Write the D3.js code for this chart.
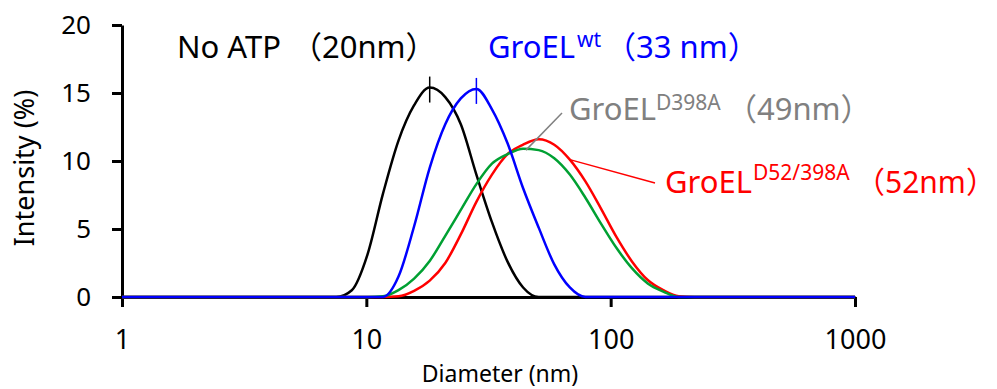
<!DOCTYPE html>
<html>
<head>
<meta charset="utf-8">
<script src="https://cdn.jsdelivr.net/npm/d3@7"></script>
<style>
  body { margin: 0; background: #fff; }
  text { font-family: "Noto Sans", "Noto Sans CJK JP", sans-serif; }
</style>
</head>
<body>
<div class="draw"></div>
<script>
// size bins (nm), Zetasizer style, plus the two ends of the axis
const diameters = [1, 7.531, 8.721, 10.1, 11.7, 13.54, 15.69, 18.17, 21.04, 24.36, 28.21, 32.67, 37.84, 43.82, 50.75, 58.77, 68.06, 78.82, 91.28, 105.7, 122.4, 141.8, 164.2, 190.1, 220.2, 1000]

// intensity (%)
const noAtp   = [0, 0, 0.5, 3.1, 7.6, 11.5, 14.1, 15.4, 14.7, 12.7, 9.0, 5.5, 2.6, 0.7, 0, 0, 0, 0, 0, 0, 0, 0, 0, 0, 0, 0]
const wt      = [0, 0, 0, 0, 0, 1.5, 5.2, 9.5, 12.7, 14.6, 15.3, 13.8, 11.3, 8.0, 5.1, 2.4, 0.7, 0, 0, 0, 0, 0, 0, 0, 0, 0]
const d398a   = [0, 0, 0, 0, 0.05, 0.5, 1.35, 2.65, 4.5, 6.4, 8.3, 9.8, 10.5, 10.9, 10.8, 10.2, 9.0, 7.3, 5.4, 3.6, 2.1, 1.0, 0.4, 0, 0, 0]
const d52398a = [0, 0, 0, 0, 0, 0.05, 0.45, 1.2, 2.5, 4.6, 7.0, 9.0, 10.5, 11.2, 11.6, 11.2, 10.1, 8.5, 6.5, 4.4, 2.6, 1.25, 0.5, 0.05, 0, 0]

const xTicks = [1, 10, 100, 1000]
const yTicks = [0, 5, 10, 15, 20]

const width = 997
const height = 389

let svg = d3.select("div.draw")
    .append("svg")
    .attr("width", width)
    .attr("height", height)

let x = d3.scaleLog().domain([1, 1000]).range([122, 855])
let y = d3.scaleLinear().domain([0, 20]).range([297, 25])

// drawing order: black, red, green, blue on top
const series = [
  {values: noAtp, color: "#000000", peakMark: true},
  {values: d52398a, color: "#ff0000", peakMark: false},
  {values: d398a, color: "#00a032", peakMark: false},
  {values: wt, color: "#0000ff", peakMark: true}
]

// axes
let yAxis = svg.append("g")
    .attr("transform", "translate(122,0)")
    .call(d3.axisLeft(y).tickValues(yTicks).tickSize(10).tickSizeOuter(0).tickPadding(21))
yAxis.select(".domain").attr("stroke-width", 3)
yAxis.selectAll(".tick line").attr("stroke-width", 3)
yAxis.selectAll(".tick text")
    .style("font-size", "26px")
    .attr("fill", "#000")

let xAxis = svg.append("g")
    .attr("transform", "translate(0,297)")
    .call(d3.axisBottom(x).tickValues(xTicks).tickFormat(d3.format("d")).tickSize(10).tickSizeOuter(0).tickPadding(23))
xAxis.select(".domain").attr("stroke-width", 3)
xAxis.selectAll(".tick line").attr("stroke-width", 3)
xAxis.selectAll(".tick text")
    .style("font-size", "27px")
    .attr("fill", "#000")

svg.append("text")
    .attr("transform", "translate(34,168) rotate(-90)")
    .attr("text-anchor", "middle")
    .style("font-size", "27px")
    .text("Intensity (%)")

svg.append("text")
    .attr("x", 500)
    .attr("y", 382)
    .attr("text-anchor", "middle")
    .style("font-size", "23px")
    .text("Diameter (nm)")

// curves
let line = d3.line()
    .x((d, i) => x(diameters[i]))
    .y(d => y(d))
    .curve(d3.curveMonotoneX)

svg.selectAll("path.curve")
    .data(series)
    .enter()
    .append("path")
    .attr("class", "curve")
    .attr("fill", "none")
    .attr("stroke", s => s.color)
    .attr("stroke-width", 2.5)
    .attr("d", s => line(s.values))

// short vertical marks at the two sharp peaks
series.filter(s => s.peakMark).forEach(function(s){
  let i = d3.maxIndex(s.values)
  let px = x(diameters[i])
  let py = y(s.values[i])
  svg.append("line")
      .attr("x1", px).attr("x2", px)
      .attr("y1", py - 11).attr("y2", py + 15)
      .attr("stroke", s.color)
      .attr("stroke-width", 1.5)
})

// leader lines
svg.append("line")
    .attr("x1", 562).attr("y1", 113)
    .attr("x2", x(45)).attr("y2", y(10.8))
    .attr("stroke", "#808080")
    .attr("stroke-width", 1.5)
svg.append("line")
    .attr("x1", 655).attr("y1", 183)
    .attr("x2", x(68.06)).attr("y2", y(10.1))
    .attr("stroke", "#ff0000")
    .attr("stroke-width", 1.5)

// labels: each part placed on its own
function label(color, parts){
  let t = svg.append("text").attr("fill", color)
  parts.forEach(function(p){
    t.append("tspan")
        .attr("x", p.x)
        .attr("y", p.y)
        .style("font-size", p.size + "px")
        .text(p.text)
  })
}

label("#000000", [
  {text: "No ATP", x: 177, y: 58, size: 31},
  {text: "（20nm）", x: 291, y: 58, size: 31}
])
label("#0000ff", [
  {text: "GroEL", x: 488, y: 58, size: 31},
  {text: "wt", x: 577, y: 47, size: 21},
  {text: "（33 nm）", x: 605, y: 58, size: 31}
])
label("#808080", [
  {text: "GroEL", x: 569, y: 120, size: 31},
  {text: "D398A", x: 656, y: 110, size: 21},
  {text: "（49nm）", x: 726, y: 120, size: 31}
])
label("#ff0000", [
  {text: "GroEL", x: 665, y: 193, size: 31},
  {text: "D52/398A", x: 753, y: 180, size: 21},
  {text: "（52nm）", x: 855, y: 193, size: 30}
])
</script>
</body>
</html>
